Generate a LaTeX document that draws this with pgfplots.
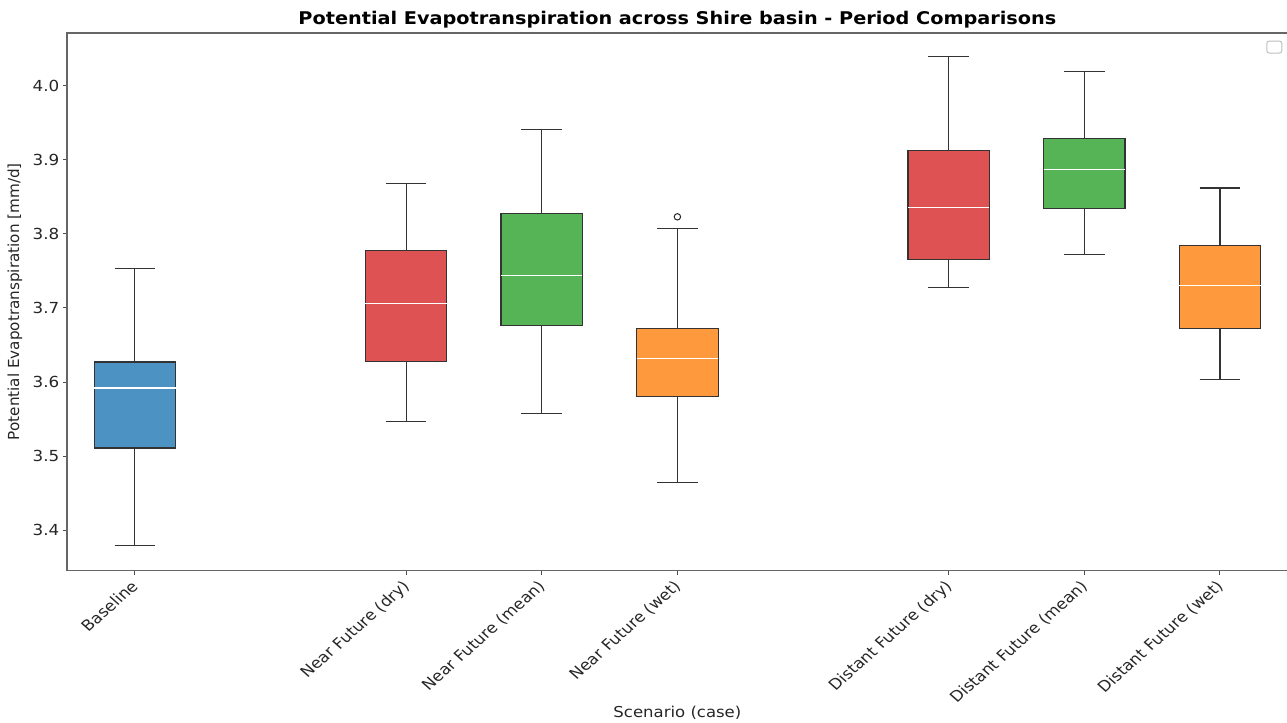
\documentclass[border=0pt]{standalone}
\usepackage{fontspec}
\setmainfont{DejaVu Sans}[FakeStretch=1.1]
\newfontfamily\plainfont{DejaVu Sans}
\usepackage{pgfplots}
\pgfplotsset{compat=1.18}
\usepgfplotslibrary{statistics}
\definecolor{cblue}{RGB}{76,146,195}
\definecolor{cred}{RGB}{222,82,83}
\definecolor{cgreen}{RGB}{86,179,86}
\definecolor{corange}{RGB}{255,153,62}
\begin{document}
\begin{tikzpicture}
\useasboundingbox (-33.5pt,-76pt) rectangle (609.6pt,285pt);
\begin{axis}[
  at={(0pt,0pt)}, anchor=south west,
  scale only axis, width=610pt, height=268.5pt,
  xmin=-0.5, xmax=8.5, ymin=3.346, ymax=4.071,
  axis line style={black!60, line width=0.6pt},
  tick pos=left, tick align=outside,
  major tick length=2.2pt,
  every tick/.style={black!70, line width=0.5pt},
  xtick={0,2,3,4,6,7,8},
  xticklabels={Baseline,Near Future (dry),Near Future (mean),Near Future (wet),Distant Future (dry),Distant Future (mean),Distant Future (wet)},
  xticklabel style={xshift=-2.5pt, xscale=1.13, rotate=45, anchor=north east, inner sep=1.5pt, font=\plainfont\fontsize{7.45}{9}\selectfont, text=black!85},
  ytick={3.4,3.5,3.6,3.7,3.8,3.9,4.0},
  yticklabel style={/pgf/number format/fixed, /pgf/number format/fixed zerofill, /pgf/number format/precision=1, /pgf/number format/assume math mode=true, font=\fontsize{7.6}{9}\selectfont, text=black!85, inner sep=1.5pt},
  title={\textbf{Potential Evapotranspiration across Shire basin - Period Comparisons}},
  title style={at={(axis description cs:0.5,1)}, anchor=south, font=\fontsize{8.75}{10}\selectfont, inner sep=0pt, yshift=-4pt},
  xlabel={Scenario (case)},
  xlabel style={at={(axis description cs:0.5,0)}, anchor=center, yshift=-71pt, font=\fontsize{7.5}{9}\selectfont, text=black!85},
  ylabel={Potential Evapotranspiration [mm/d]},
  ylabel style={at={(axis description cs:0,0.5)}, anchor=center, yshift=26pt, font=\plainfont\fontsize{7.6}{9}\selectfont, text=black!85},
  boxplot/draw direction=y,
  boxplot/box extend=0.6,
  boxplot/whisker extend=0.3,
  boxplot/every box/.style={draw=black!80, line width=0.6pt},
  boxplot/every whisker/.style={draw=black!80, line width=0.6pt},
  boxplot/every median/.style={draw=white, line width=0.6pt},
]
\addplot[boxplot prepared={draw position=0, lower whisker=3.379, lower quartile=3.511, median=3.592, upper quartile=3.627, upper whisker=3.753}, fill=cblue, draw=black!80, mark=none] coordinates {};
\addplot[boxplot prepared={draw position=2, lower whisker=3.547, lower quartile=3.628, median=3.706, upper quartile=3.778, upper whisker=3.868}, fill=cred, draw=black!80, mark=none] coordinates {};
\addplot[boxplot prepared={draw position=3, lower whisker=3.558, lower quartile=3.676, median=3.744, upper quartile=3.827, upper whisker=3.941}, fill=cgreen, draw=black!80, mark=none] coordinates {};
\addplot[boxplot prepared={draw position=4, lower whisker=3.465, lower quartile=3.581, median=3.632, upper quartile=3.672, upper whisker=3.807}, fill=corange, draw=black!80, mark=o, mark size=1.6pt, mark options={draw=black!85, fill=white, line width=0.5pt}] table[row sep=\\, y index=0] {3.823\\};
\addplot[boxplot prepared={draw position=6, lower whisker=3.728, lower quartile=3.765, median=3.836, upper quartile=3.912, upper whisker=4.039}, fill=cred, draw=black!80, mark=none] coordinates {};
\addplot[boxplot prepared={draw position=7, lower whisker=3.772, lower quartile=3.834, median=3.887, upper quartile=3.929, upper whisker=4.019}, fill=cgreen, draw=black!80, mark=none] coordinates {};
\addplot[boxplot prepared={draw position=8, lower whisker=3.604, lower quartile=3.672, median=3.730, upper quartile=3.784, upper whisker=3.862}, fill=corange, draw=black!80, mark=none] coordinates {};
\end{axis}
\draw[black!25, line width=0.5pt, rounded corners=1.2pt] (599.5pt,258.5pt) rectangle (607pt,264.5pt);
\end{tikzpicture}
\end{document}
